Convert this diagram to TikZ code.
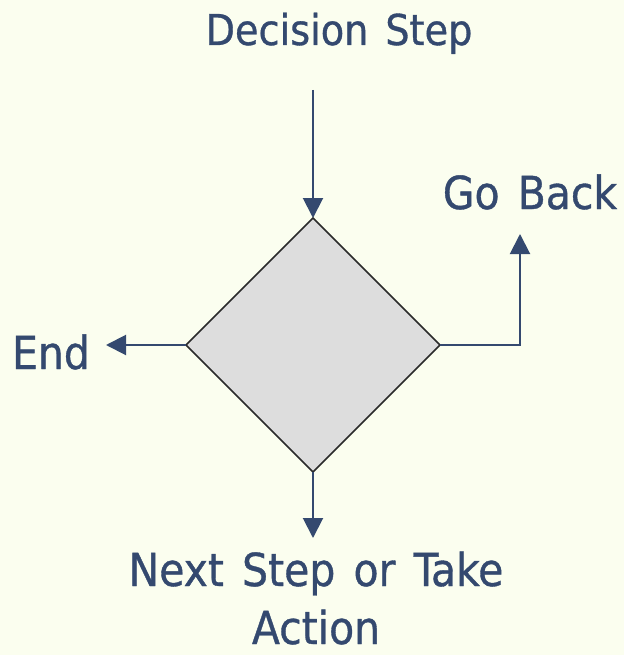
\documentclass[tikz,border=0pt]{standalone}
\usepackage{fontspec}
\setmainfont{DejaVu Sans Condensed}[WordSpace=1.4, FakeBold=0.8]
\usetikzlibrary{arrows.meta,shapes.geometric}
\definecolor{paper}{HTML}{FBFEEF}
\definecolor{ink}{HTML}{34496F}
\definecolor{boxfill}{HTML}{DDDDDD}
\definecolor{boxline}{HTML}{2A2A2A}
\tikzset{
  label text/.style={text=ink, font=\fontsize{45.5}{58}\selectfont, inner sep=0pt, align=center, anchor=base},
  title text/.style={label text, font=\fontsize{42.5}{58}\selectfont},
  flow/.style={draw=ink, line width=2pt, -{Triangle[width=20pt,length=20pt]}},
}
\begin{document}
\begin{tikzpicture}[x=1pt,y=-1pt]
  \fill[paper] (0,0) rectangle (624,655);
  \useasboundingbox (0,0) rectangle (624,655);
  % decision diamond
  \draw[boxline, fill=boxfill, line width=1.5pt]
    (313,218) -- (440,345) -- (313,472) -- (186,345) -- cycle;
  \coordinate (top) at (313,218);
  \coordinate (right) at (440,345);
  \coordinate (bottom) at (313,472);
  \coordinate (left) at (186,345);
  % labels, placed by their (last) baselines
  \node[title text] (decision) at (339,45) {Decision Step};
  \node[label text] (goback) at (530,209) {Go Back};
  \node[label text] (end) at (51,369) {End};
  \node[label text] (next) at (316,644) {Next Step or Take\\Action};
  % connectors
  \coordinate (in) at (313,90);
  \coordinate (corner) at (520,345);
  \coordinate (backtip) at (520,234);
  \coordinate (endtip) at (106,345);
  \coordinate (nexttip) at (313,538);
  \draw[flow] (in) -- (top);
  \draw[flow] (right) -- (corner) -- (backtip);
  \draw[flow] (left) -- (endtip);
  \draw[flow] (bottom) -- (nexttip);
\end{tikzpicture}
\end{document}
